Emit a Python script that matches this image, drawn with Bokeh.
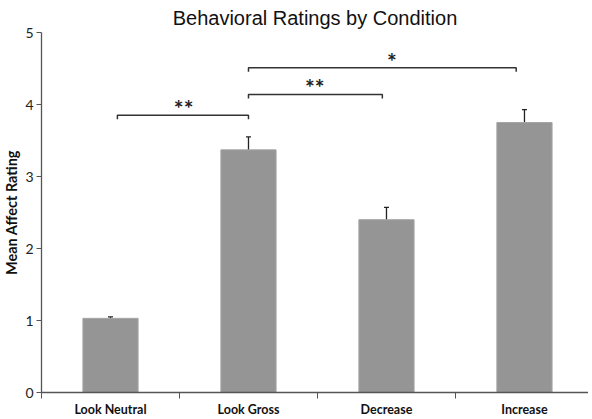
from bokeh.plotting import figure
from bokeh.models import ColumnDataSource, FixedTicker, Whisker, TeeHead, Range1d
from bokeh.core.properties import value
from bokeh.embed import file_html
from bokeh.resources import INLINE

categories = ["Look Neutral", "Look Gross", "Decrease", "Increase"]
means = [1.03, 3.37, 2.40, 3.75]
errors = [0.02, 0.18, 0.17, 0.18]

# significance brackets
br_start = [0.55, 1.5, 1.5]
br_end = [1.5, 2.47, 3.44]
br_height = [3.85, 4.14, 4.51]
br_label = ["**", "**", "*"]
br_label_x = [1.03, 1.98, 2.54]
br_label_y = [3.95, 4.24, 4.61]

xs = [i + 0.5 for i in range(len(categories))]

p = figure(frame_width=547, frame_height=360, output_backend="svg",
           toolbar_location=None, x_range=Range1d(0, 3.964), y_range=Range1d(0, 5),
           min_border_left=37, min_border_right=0, min_border_top=5, min_border_bottom=0,
           title="Behavioral Ratings by Condition")
p.title.align = "center"
p.title.text_font = "Liberation Sans"
p.title.text_font_size = "20px"
p.title.text_font_style = "normal"
p.title.text_color = "#111111"
p.title.standoff = 8
p.outline_line_color = None
p.xgrid.visible = False
p.ygrid.visible = False

src = ColumnDataSource(dict(x=xs, top=means, lower=[m - e for m, e in zip(means, errors)],
                            upper=[m + e for m, e in zip(means, errors)]))
p.vbar(x="x", top="top", width=0.4, source=src, fill_color="#959595", line_color="#a5a5a5", line_width=1)
w = Whisker(base="x", lower="lower", upper="upper", source=src, line_color="#222222", line_width=1.3,
            upper_head=TeeHead(size=5, line_color="#222222", line_width=1.3),
            lower_head=TeeHead(size=5, line_color="#222222", line_width=1.3))
p.add_layout(w)

tick = 0.055
bx = [[s, s, e, e] for s, e in zip(br_start, br_end)]
by = [[h - tick, h, h, h - tick] for h in br_height]
p.multi_line(bx, by, line_color="#333333", line_width=1.5)
p.text(x=br_label_x, y=br_label_y, text=br_label, text_align="center", text_baseline="middle",
       text_font=value("Lato"), text_font_size="23px", text_font_style="bold", text_color="#222222")

# x axis
p.xaxis.ticker = FixedTicker(ticks=xs, minor_ticks=[0, 1, 2, 3, 4])
p.xaxis.major_label_overrides = {x: c for x, c in zip(xs, categories)}
p.xaxis.major_tick_out = 0
p.xaxis.major_tick_in = 0
p.xaxis.minor_tick_out = 6
p.xaxis.minor_tick_in = 0
p.xaxis.minor_tick_line_color = "#555555"
p.xaxis.axis_line_color = "#555555"
p.xaxis.axis_line_width = 1.3
p.xaxis.major_label_text_font = "Lato"
p.xaxis.major_label_text_font_style = "bold"
p.xaxis.major_label_text_font_size = "12.5px"
p.xaxis.major_label_text_color = "#111111"
p.xaxis.major_label_standoff = 3

# y axis
p.yaxis.ticker = FixedTicker(ticks=[0, 1, 2, 3, 4, 5])
p.yaxis.minor_tick_line_color = None
p.yaxis.major_tick_out = 5
p.yaxis.major_tick_in = 0
p.yaxis.major_tick_line_color = "#555555"
p.yaxis.axis_line_color = "#555555"
p.yaxis.axis_line_width = 1.3
p.yaxis.major_label_text_font = "Lato"
p.yaxis.major_label_text_font_size = "14px"
p.yaxis.major_label_text_color = "#222222"
p.yaxis.major_label_standoff = 3
p.yaxis.axis_label = "Mean Affect Rating"
p.yaxis.axis_label_text_font = "Lato"
p.yaxis.axis_label_text_font_style = "bold"
p.yaxis.axis_label_text_font_size = "14.5px"
p.yaxis.axis_label_text_color = "#111111"
p.yaxis.axis_label_standoff = 2

open("out.html", "w").write(file_html(p, INLINE))
